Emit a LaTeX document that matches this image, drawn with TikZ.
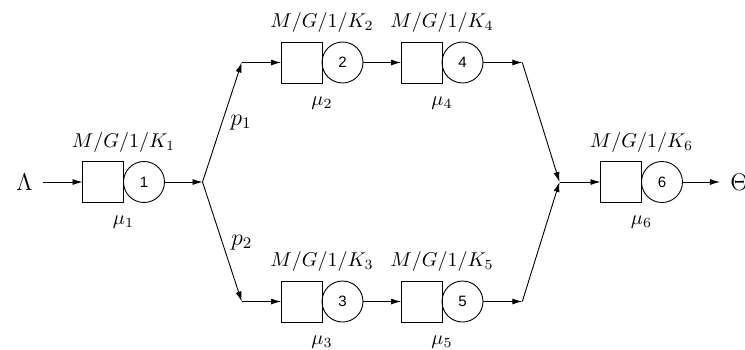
\documentclass[tikz,border=0pt]{standalone}
\usepackage{fontspec}
\newfontfamily\digitfont{Liberation Sans}
\usetikzlibrary{arrows.meta}
\begin{document}
\begin{tikzpicture}[x=0.5pt,y=-0.5pt,
  queue/.style={draw,rectangle,minimum width=20.5pt,minimum height=20.5pt,inner sep=0pt,outer sep=0pt},
  server/.style={draw,circle,minimum size=20.5pt,inner sep=0pt,outer sep=0pt,font=\digitfont\fontsize{7.5}{8}\selectfont},
  qlab/.style={inner sep=0pt,anchor=base,font=\fontsize{10}{12}\selectfont},
  plab/.style={inner sep=0pt,anchor=base west,font=\fontsize{12}{14}\selectfont},
  big/.style={inner sep=5pt,font=\fontsize{12}{14}\selectfont},
  flow/.style={-{Latex[length=5pt,width=3pt]},line width=0.45pt},
  line width=0.45pt]
\useasboundingbox (0,0) rectangle (745,349);
% stations
\node[queue] (sq1) at (103,182) {};
\node[server,anchor=west] (c1) at (sq1.east) {1};
\node[queue] (sq2) at (301.5,62.5) {};
\node[server,anchor=west] (c2) at (sq2.east) {2};
\node[queue] (sq4) at (421.5,62.5) {};
\node[server,anchor=west] (c4) at (sq4.east) {4};
\node[queue] (sq3) at (301.5,301.5) {};
\node[server,anchor=west] (c3) at (sq3.east) {3};
\node[queue] (sq5) at (421.5,301.5) {};
\node[server,anchor=west] (c5) at (sq5.east) {5};
\node[queue] (sq6) at (621,182) {};
\node[server,anchor=west] (c6) at (sq6.east) {6};
% labels
\foreach \i in {1,...,6}{
  \node[qlab] (k\i) at ([yshift=7.25pt]sq\i.north east) {$M/G/1/K_{\i}$};
  \node[qlab] (m\i) at ([yshift=-11pt]sq\i.south east) {$\mu_{\i}$};
}
% in/out
\node[big] (in) at (24.5,182) {$\Lambda$};
\node[big] (out) at (739.5,182) {$\Theta$};
% junctions
\coordinate (jL) at (202.5,182);
\coordinate (tL) at (241.7,62.5);
\coordinate (bL) at (241.7,301.5);
\coordinate (tR) at (522.3,62.5);
\coordinate (bR) at (522.3,301.5);
\coordinate (jR) at (559.5,182);
\node[plab] (p1) at (230,125.3) {$p_1$};
\node[plab] (p2) at (230.7,245.3) {$p_2$};
% connectors
\draw[flow] (in) -- (sq1);
\draw[flow] (c1) -- (jL);
\draw[flow] (jL) -- (tL);
\draw[flow] (tL) -- (sq2);
\draw[flow] (jL) -- (bL);
\draw[flow] (bL) -- (sq3);
\draw[flow] (c2) -- (sq4);
\draw[flow] (c3) -- (sq5);
\draw[flow] (c4) -- (tR);
\draw[flow] (c5) -- (bR);
\draw[flow] (tR) -- (jR);
\draw[flow] (bR) -- (jR);
\draw[flow] (jR) -- (sq6);
\draw[flow] (c6) -- (out);
\end{tikzpicture}
\end{document}
